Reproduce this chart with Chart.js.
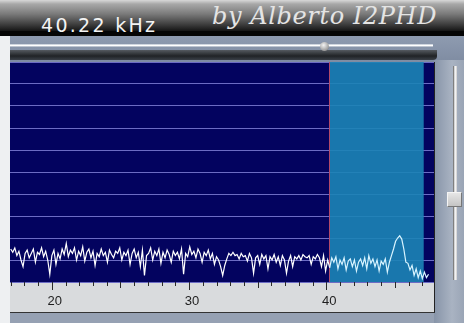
<!DOCTYPE html>
<html>
<head>
<meta charset="utf-8">
<script src="https://cdn.jsdelivr.net/npm/chart.js@4"></script>
<style>
  body { margin: 0; background: #fff; }
  #app { position: relative; width: 464px; height: 323px; overflow: hidden; background: #96a1b3; }
  .abs { position: absolute; }
  #topbar { left: 0; top: 0; width: 464px; height: 31px;
    background: linear-gradient(#d8d8d8 0px, #a8a8a8 4px, #7a7a7a 14px, #404040 24px, #151515 31px); }
  #blackband { left: 0; top: 31px; width: 464px; height: 5px; background: #050505; }
  #freq { left: 41px; top: 14px; color: #f4f4f4; font: 19px "DejaVu Sans", sans-serif; letter-spacing: 2.3px; }
  #author { left: 212px; top: 2px; color: #e4e4e4; font: italic 24px "DejaVu Serif", serif; letter-spacing: 0.6px; }
  #leftcol { left: 0; top: 36px; width: 10px; height: 287px; background: #eef0f2; }
  #sliderzone { left: 10px; top: 36px; width: 454px; height: 26px; background: linear-gradient(#8e9bb0, #7f8ca2); }
  #hline { left: 10px; top: 44px; width: 423px; height: 3px; background: linear-gradient(#b8c2d0, #ffffff 50%, #9aa6b8); }
  #knob { left: 320px; top: 42px; width: 9px; height: 9px; border-radius: 50%; background: radial-gradient(circle at 40% 35%, #f4f4f4, #9a9a9a 70%, #444); }
  #shadow { left: 10px; top: 50px; width: 427px; height: 10px; background: linear-gradient(#555a60, #202326 60%, #3a4048); border-radius: 0 0 4px 0; }
  #rightzone { left: 434px; top: 60px; width: 30px; height: 263px; background: linear-gradient(90deg, #8794a8, #a9b3c2 60%, #9aa5b6); }
  #vtrack { left: 453px; top: 66px; width: 4px; height: 214px; background: linear-gradient(90deg, #555, #fff 50%, #ccc); }
  #vthumb { left: 447px; top: 192px; width: 15px; height: 15px; background: linear-gradient(#e6e6e6, #c4c4c4); border: 1px solid #f4f4f4; border-right-color: #777; border-bottom-color: #777; box-sizing: border-box; }
  #plotwrap { left: 10px; top: 62px; width: 425px; height: 251px; background: #d9dbdd; border-right: 1px solid #222; border-bottom: 1px solid #333; box-sizing: border-box; }
  #myChart { display: block; }
</style>
</head>
<body>
<div id="app">
  <div class="abs" id="topbar"></div>
  <div class="abs" id="blackband"></div>
  <div class="abs" id="freq">40.22 kHz</div>
  <div class="abs" id="author">by Alberto I2PHD</div>
  <div class="abs" id="leftcol"></div>
  <div class="abs" id="sliderzone"></div>
  <div class="abs" id="hline"></div>
  <div class="abs" id="shadow"></div>
  <div class="abs" id="knob"></div>
  <div class="abs" id="rightzone"></div>
  <div class="abs" id="vtrack"></div>
  <div class="abs" id="vthumb"></div>
  <div class="abs" id="plotwrap"><canvas id="myChart" width="424" height="250"></canvas></div>
</div>
<script>
const ctx = document.getElementById("myChart")

// frequency axis (kHz)
const xMin = 16.95
const xMax = 47.85
const xLabels = [20, 30, 40]
const freqStart = 17.0
const freqStep = 0.15

// highlighted passband
const bandStart = 40.22
const bandEnd = 47.1

// spectrum level, one value per bin (grid units, 0..10)
const levels = [
  1.5, 1.35, 1.55, 1.2, 1.4, 1.0, 0.7, 1.3, 1.45, 1.1,
  1.3, 1.5, 0.9, 1.35, 1.25, 1.55, 1.15, 1.4, 1.0, 0.35,
  1.2, 1.45, 0.8, 1.3, 1.05, 1.5, 1.25, 1.75, 1.15, 1.45,
  1.3, 1.55, 1.0, 1.4, 1.2, 1.6, 0.95, 1.35, 1.5, 1.1,
  1.4, 0.75, 1.3, 1.15, 1.5, 1.2, 1.35, 0.9, 1.45, 1.25,
  1.1, 1.4, 1.3, 1.55, 1.0, 1.35, 1.2, 1.45, 0.8, 1.3,
  1.5, 1.1, 1.35, 0.7, 1.45, 0.3, 1.2, 1.3, 1.55, 1.0,
  1.4, 1.2, 1.5, 0.85, 1.35, 1.1, 1.45, 1.25, 0.9, 1.4,
  1.2, 1.35, 1.05, 1.5, 0.35, 1.3, 1.15, 1.6, 1.25, 1.4,
  1.1, 1.5, 1.3, 0.9, 1.35, 1.2, 1.45, 1.05, 1.3, 0.8,
  1.15, 1.0, 0.7, 0.3, 0.75, 1.05, 1.3, 1.2, 1.35, 1.2,
  1.25, 1.05, 1.3, 1.15, 1.2, 0.95, 1.3, 1.1, 0.4, 1.1,
  1.2, 0.8, 1.25, 1.05, 1.2, 0.6, 1.15, 1.0, 1.25, 0.9,
  1.15, 0.75, 1.2, 1.0, 0.4, 0.95, 1.2, 0.7, 1.15, 1.05,
  1.2, 1.0, 1.25, 1.15, 1.1, 1.2, 0.8, 1.15, 1.05, 1.25,
  1.1, 0.7, 1.2, 0.5, 1.0, 0.65, 1.1, 0.9, 1.15, 0.6,
  1.0, 0.8, 1.1, 0.55, 0.95, 1.05, 0.7, 1.0, 0.5, 0.9,
  1.05, 0.75, 1.1, 0.6, 1.2, 0.85, 1.05, 0.7, 1.0, 0.5,
  0.95, 0.8, 1.05, 0.45, 0.9, 1.2, 1.5, 1.85, 2.0, 2.1,
  1.95, 1.5, 0.9, 0.85, 0.55, 0.75, 0.3, 0.6, 0.2, 0.5,
  0.15, 0.45, 0.2, 0.35
]

const points = levels.map((v, i) => ({ x: freqStart + i * freqStep, y: v }))

const panelPlugin = {
  id: "panel",
  beforeDraw(chart) {
    const a = chart.chartArea
    const c = chart.ctx
    c.save()
    c.fillStyle = "#03035f"
    c.fillRect(a.left, a.top, a.right - a.left, a.bottom - a.top)
    c.restore()
  },
  beforeDatasetsDraw(chart) {
    const a = chart.chartArea
    const c = chart.ctx
    const xs = chart.scales.x
    const x0 = xs.getPixelForValue(bandStart)
    const x1 = xs.getPixelForValue(bandEnd)
    c.save()
    c.fillStyle = "rgba(28,132,182,0.9)"
    c.fillRect(x0, a.top, x1 - x0, a.bottom - a.top)
    c.strokeStyle = "#b04a6a"
    c.lineWidth = 1
    c.beginPath()
    c.moveTo(Math.round(x0) + 0.5, a.top)
    c.lineTo(Math.round(x0) + 0.5, a.bottom)
    c.stroke()
    c.restore()
  },
  afterDraw(chart) {
    const a = chart.chartArea
    const c = chart.ctx
    const xs = chart.scales.x
    c.save()
    c.strokeStyle = "#2a2a2a"
    c.lineWidth = 1
    for (let v = Math.ceil(xs.min); v <= xs.max; v++) {
      const px = Math.round(xs.getPixelForValue(v)) + 0.5
      const len = v % 10 === 0 ? 8 : (v % 5 === 0 ? 6 : 4)
      c.beginPath()
      c.moveTo(px, a.bottom)
      c.lineTo(px, a.bottom + len)
      c.stroke()
    }
    c.restore()
  }
}

const myChart = new Chart(ctx, {
  type: "line",
  data: {
    datasets: [{
      data: points,
      borderWidth: 1.2,
      borderColor: "#ffffff",
      pointRadius: 0,
      tension: 0,
      segment: {
        borderColor: s => s.p0.parsed.x >= bandStart ? "#d8f4ff" : "#ffffff"
      }
    }]
  },
  options: {
    responsive: false,
    animation: false,
    layout: { padding: 0 },
    plugins: { legend: { display: false }, tooltip: { enabled: false } },
    scales: {
      x: {
        type: "linear",
        min: xMin,
        max: xMax,
        afterBuildTicks: s => { s.ticks = xLabels.map(v => ({ value: v })) },
        afterFit: s => { s.height = 30 },
        grid: { display: false, drawTicks: false },
        border: { display: false },
        ticks: {
          color: "#1e1e1e",
          font: { family: "Liberation Sans", size: 13 },
          padding: 12,
          labelOffset: 3,
          maxRotation: 0
        }
      },
      y: {
        min: 0,
        max: 10,
        afterFit: s => { s.width = 0 },
        ticks: { display: false, stepSize: 1 },
        border: { display: false },
        grid: { color: "#6c6cc4", lineWidth: 1, drawTicks: false }
      }
    }
  },
  plugins: [panelPlugin]
})
</script>
</body>
</html>
